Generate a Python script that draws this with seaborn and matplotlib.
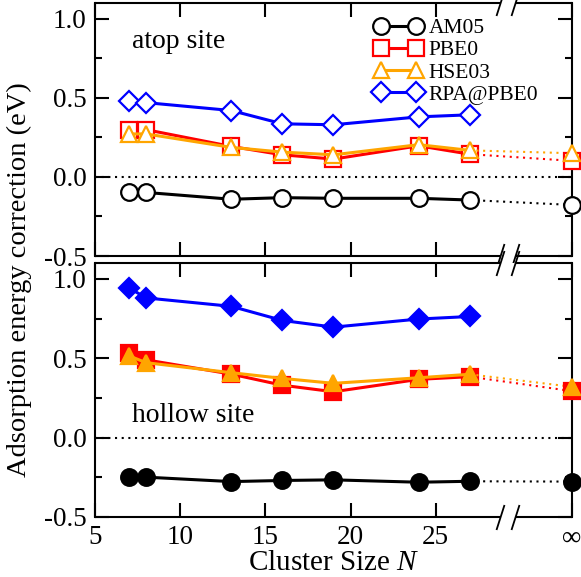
import seaborn as sns
import matplotlib.pyplot as plt
from matplotlib.ticker import MultipleLocator

# cluster sizes; the bulk (N -> infinity) limit is drawn at x = 33, past the axis break
N = [7, 8, 13, 16, 19, 24, 27]
X_INF = 33
X_BREAK = 29.2

methods = ["AM05", "PBE0", "HSE03", "RPA@PBE0"]
colors = ["black", "red", "orange", "blue"]
markers = ["o", "s", "^", "D"]
msizes = [12, 11, 11.5, 9.8]

# atop site
atop_am05 = [-0.098, -0.098, -0.141, -0.131, -0.135, -0.135, -0.146]
atop_pbe0 = [0.299, 0.299, 0.193, 0.140, 0.113, 0.197, 0.144]
atop_hse03 = [0.272, 0.272, 0.187, 0.157, 0.140, 0.204, 0.168]
atop_rpa = [0.480, 0.470, 0.420, 0.336, 0.330, 0.380, 0.393]
atop_inf = [-0.177, 0.102, 0.150, None]

# hollow site
hollow_am05 = [-0.245, -0.249, -0.277, -0.270, -0.266, -0.281, -0.275]
hollow_pbe0 = [0.535, 0.490, 0.400, 0.330, 0.289, 0.367, 0.384]
hollow_hse03 = [0.515, 0.472, 0.409, 0.373, 0.342, 0.377, 0.399]
hollow_rpa = [0.943, 0.880, 0.827, 0.738, 0.696, 0.747, 0.763]
hollow_inf = [-0.277, 0.293, 0.320, None]

sns.set_style("ticks")
plt.rcParams['font.family'] = ['Liberation Serif', 'DejaVu Serif']
plt.rcParams['mathtext.fontset'] = 'custom'
plt.rcParams['mathtext.it'] = 'Liberation Serif:italic'
plt.rcParams['mathtext.rm'] = 'Liberation Serif'
plt.rcParams['axes.axisbelow'] = False
for k in ['xtick.color', 'ytick.color', 'text.color', 'axes.labelcolor', 'axes.edgecolor']:
    plt.rcParams[k] = 'black'

fig = plt.figure(figsize=(5.81, 5.77), dpi=100)
ax_top = fig.add_axes([0.1635, 0.5563, 0.821, 0.4385])
ax_bot = fig.add_axes([0.1635, 0.104, 0.821, 0.4402])


def draw_panel(ax, series, inf_vals, filled):
    for name, col, mk, ms, y, yinf in zip(methods, colors, markers, msizes, series, inf_vals):
        fc = col if filled else "white"
        if yinf is not None:
            sns.lineplot(x=[N[-1], X_INF], y=[y[-1], yinf], ax=ax, color=col, lw=1.5,
                         linestyle=(0, (1, 2.2)), legend=False)
        sns.lineplot(x=N, y=y, ax=ax, color=col, lw=2.2, marker=mk, markersize=ms,
                     markerfacecolor=fc, markeredgecolor=col, markeredgewidth=1.6,
                     label=name, legend=False)
        if yinf is not None:
            ax.plot([X_INF], [yinf], marker=mk, markersize=ms, markerfacecolor=fc,
                    markeredgecolor=col, markeredgewidth=1.6, clip_on=False, zorder=5)
    ax.axhline(0, color="black", lw=1.5, linestyle=(0, (1, 2.2)), zorder=1)

    ax.set_xlim(5, X_INF)
    ax.set_ylim(-0.5, 1.1)
    ax.set_xticks([5, 10, 15, 20, 25, X_INF])
    ax.set_yticks([-0.5, 0.0, 0.5, 1.0])
    ax.set_yticklabels(["-0.5", "0.0", "0.5", "1.0"])
    ax.yaxis.set_minor_locator(MultipleLocator(0.25))
    ax.tick_params(axis="both", which="both", direction="in", bottom=True, left=True,
                   top=True, right=True, width=1.5, color="black", labelsize=19.5, pad=6)
    ax.tick_params(axis="both", which="major", length=10)
    ax.tick_params(axis="both", which="minor", length=5)

    # broken x axis: redraw top/bottom spines with a gap and // marks
    for s in ["left", "right", "top", "bottom"]:
        ax.spines[s].set_linewidth(1.5)
    ax.spines["top"].set_visible(False)
    ax.spines["bottom"].set_visible(False)
    tr = ax.get_xaxis_transform()
    g = 0.43
    slash = [(-0.32, -1), (0.32, 1)]
    for yy in [0, 1]:
        ax.plot([5, X_BREAK - g], [yy, yy], color="black", lw=1.5, transform=tr,
                clip_on=False, solid_capstyle="butt")
        ax.plot([X_BREAK + g, X_INF], [yy, yy], color="black", lw=1.5, transform=tr,
                clip_on=False, solid_capstyle="butt")
        ax.plot([X_BREAK - g, X_BREAK + g], [yy, yy], linestyle="none", marker=slash,
                markersize=18, markeredgecolor="black", markeredgewidth=1.3,
                transform=tr, clip_on=False)


draw_panel(ax_top, [atop_am05, atop_pbe0, atop_hse03, atop_rpa], atop_inf, False)
draw_panel(ax_bot, [hollow_am05, hollow_pbe0, hollow_hse03, hollow_rpa], hollow_inf, True)

ax_top.set_xticklabels([])
ax_bot.set_xticklabels(["5", "10", "15", "20", "25", "∞"])

ax_top.text(7.2, 0.855, "atop site", fontsize=20, va="center")
ax_bot.text(7.2, 0.14, "hollow site", fontsize=20, va="center")

ax_top.legend(loc="upper left", bbox_to_anchor=(0.555, 1.0), frameon=False, numpoints=2,
              fontsize=15.5, handlelength=2.2, handletextpad=0.3, labelspacing=0.1,
              borderaxespad=0.3)

ax_bot.set_xlabel("Cluster Size $N$", fontsize=21, labelpad=0)
fig.text(0.033, 0.515, "Adsorption energy correction (eV)", rotation=90, fontsize=20.5,
         ha="center", va="center")

plt.savefig("out.png", dpi=100)
